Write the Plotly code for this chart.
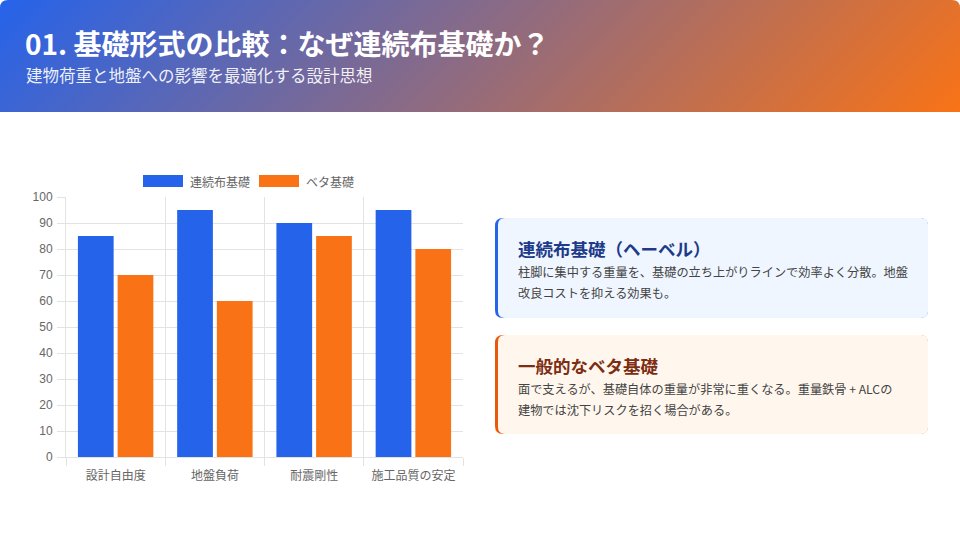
import base64
import plotly.graph_objects as go

categories = ["設計自由度", "地盤負荷", "耐震剛性", "施工品質の安定"]
series_names = ["連続布基礎", "ベタ基礎"]
continuous_vals = [85, 95, 90, 95]
mat_vals = [70, 60, 85, 80]
y_ticks = list(range(0, 101, 10))

BLUE = "#2563eb"
ORANGE = "#f97316"
W, H = 960, 540
PL, PR, PT, PB = 66, 463, 197, 457


def px(x):
    return (x - PL) / (PR - PL)


def py(y):
    return (PB - y) / (PB - PT)


svg = f'''<svg xmlns="http://www.w3.org/2000/svg" width="960" height="112" viewBox="0 0 960 112">
<defs><linearGradient id="g" gradientUnits="userSpaceOnUse" x1="212" y1="-212" x2="748" y2="324">
<stop offset="0" stop-color="#2563eb"/><stop offset="1" stop-color="#f97316"/></linearGradient></defs>
<path d="M0,8 Q0,0 8,0 L952,0 Q960,0 960,8 L960,112 L0,112 Z" fill="url(#g)"/></svg>'''
svg_uri = "data:image/svg+xml;base64," + base64.b64encode(svg.encode()).decode()

xs = list(range(len(categories)))
fig = go.Figure()
fig.add_trace(go.Bar(x=xs, y=continuous_vals, name=series_names[0], marker=dict(color=BLUE, line=dict(width=0))))
fig.add_trace(go.Bar(x=xs, y=mat_vals, name=series_names[1], marker=dict(color=ORANGE, line=dict(width=0))))
# invisible trace for category axis labels
fig.add_trace(go.Scatter(x=xs, y=[None] * len(xs), xaxis="x2", showlegend=False, hoverinfo="skip"))

JP = "Noto Sans CJK JP"
GRID = "#e3e3e3"

fig.update_layout(
    width=W, height=H,
    margin=dict(l=PL, r=W - PR, t=PT, b=H - PB),
    paper_bgcolor="white", plot_bgcolor="white",
    barmode="group", bargap=0.2, bargroupgap=0.1,
    showlegend=False,
    font=dict(family=JP, color="#666"),
    xaxis=dict(range=[-0.5, len(categories) - 0.5], tickvals=[i - 0.5 for i in range(len(categories) + 1)],
               ticktext=[""] * (len(categories) + 1), showgrid=True, gridcolor=GRID, gridwidth=1,
               ticks="outside", ticklen=8, tickcolor=GRID, showline=True, linecolor=GRID, zeroline=False),
    xaxis2=dict(overlaying="x", side="bottom", range=[-0.5, len(categories) - 0.5], tickvals=xs,
                ticktext=categories, showgrid=False, ticks="", tickfont=dict(size=12, color="#666", family=JP),
                ticklabelstandoff=10, zeroline=False, showline=False),
    yaxis=dict(range=[0, 100], tickvals=y_ticks, showgrid=True, gridcolor=GRID, gridwidth=1,
               ticks="outside", ticklen=8, tickcolor=GRID, showline=True, linecolor=GRID,
               zeroline=False, tickfont=dict(size=12, color="#666", family="Liberation Sans"),
               ticklabelstandoff=2),
    images=[dict(source=svg_uri, xref="paper", yref="paper", x=px(0), y=py(0), sizex=px(960) - px(0),
                 sizey=py(0) - py(112), xanchor="left", yanchor="top", sizing="stretch", layer="below")],
)

shapes = []
annotations = []

# legend
for (x0, color, label) in [(143, BLUE, series_names[0]), (259, ORANGE, series_names[1])]:
    shapes.append(dict(type="rect", xref="paper", yref="paper", x0=px(x0), x1=px(x0 + 40), y0=py(187), y1=py(175),
                       fillcolor=color, line=dict(width=0)))
    annotations.append(dict(text=label, xref="paper", yref="paper", x=px(x0 + 45), y=py(181), xanchor="left",
                            yanchor="middle", showarrow=False, font=dict(size=12, color="#666", family=JP)))

# header text
annotations.append(dict(text="<b>01. 基礎形式の比較：なぜ連続布基礎か？</b>", xref="paper", yref="paper",
                        x=px(23), y=py(43), xanchor="left", yanchor="middle", showarrow=False,
                        font=dict(size=28, color="white", family=JP)))
annotations.append(dict(text="建物荷重と地盤への影響を最適化する設計思想", xref="paper", yref="paper",
                        x=px(24), y=py(75), xanchor="left", yanchor="middle", showarrow=False,
                        font=dict(size=16.5, color="rgba(255,255,255,0.92)", family=JP)))


def rounded_path(x0, y0, x1, y1, r):
    X = lambda v: px(v)
    Y = lambda v: py(v)
    return (f"M {X(x0 + r)},{Y(y0)} L {X(x1 - r)},{Y(y0)} Q {X(x1)},{Y(y0)} {X(x1)},{Y(y0 + r)} "
            f"L {X(x1)},{Y(y1 - r)} Q {X(x1)},{Y(y1)} {X(x1 - r)},{Y(y1)} L {X(x0 + r)},{Y(y1)} "
            f"Q {X(x0)},{Y(y1)} {X(x0)},{Y(y1 - r)} L {X(x0)},{Y(y0 + r)} Q {X(x0)},{Y(y0)} {X(x0 + r)},{Y(y0)} Z")


cards = [
    dict(y0=218, y1=318, bg="#eff6ff", border="#2563eb", tcolor="#1e3a8a", title="連続布基礎（ヘーベル）",
         lines=["柱脚に集中する重量を、基礎の立ち上がりラインで効率よく分散。地盤", "改良コストを抑える効果も。"]),
    dict(y0=335, y1=434, bg="#fff7ed", border="#ea580c", tcolor="#7c2d12", title="一般的なベタ基礎",
         lines=["面で支えるが、基礎自体の重量が非常に重くなる。重量鉄骨 + ALCの", "建物では沈下リスクを招く場合がある。"]),
]
for c in cards:
    shapes.append(dict(type="path", xref="paper", yref="paper", path=rounded_path(495, c["y0"], 928, c["y1"], 8),
                       fillcolor=c["border"], line=dict(width=0), layer="below"))
    shapes.append(dict(type="path", xref="paper", yref="paper", path=rounded_path(498, c["y0"], 928, c["y1"], 7),
                       fillcolor=c["bg"], line=dict(width=0), layer="below"))
    annotations.append(dict(text=f"<b>{c['title']}</b>", xref="paper", yref="paper", x=px(516), y=py(c["y0"] + 30),
                            xanchor="left", yanchor="middle", showarrow=False,
                            font=dict(size=17.5, color=c["tcolor"], family=JP)))
    for i, ln in enumerate(c["lines"]):
        annotations.append(dict(text=ln, xref="paper", yref="paper", x=px(516), y=py(c["y0"] + 54 + 21 * i),
                                xanchor="left", yanchor="middle", showarrow=False,
                                font=dict(size=12.2, color="#444", family=JP)))

fig.update_layout(shapes=shapes, annotations=annotations)
fig.write_html("out.html")
